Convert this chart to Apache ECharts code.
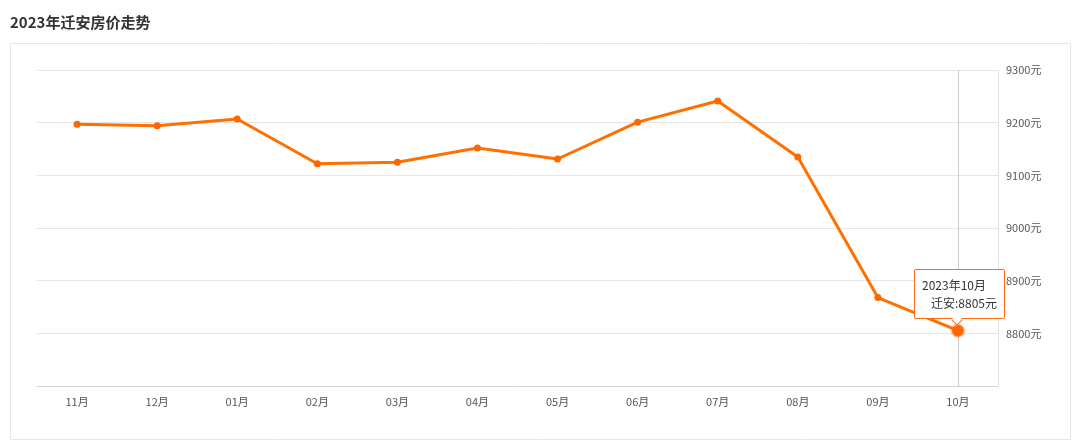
<!DOCTYPE html>
<html>
<head>
<meta charset="utf-8">
<script src="https://cdn.jsdelivr.net/npm/echarts@6/dist/echarts.min.js"></script>
<style>
html,body{margin:0;padding:0;background:#fff;}
#chart{width:1080px;height:448px;}
</style>
</head>
<body>
<div id="chart"></div>
<script>
const titleText = '2023年迁安房价走势';
const seriesName = '迁安';
const periods = ['2022年11月','2022年12月','2023年01月','2023年02月','2023年03月','2023年04月','2023年05月','2023年06月','2023年07月','2023年08月','2023年09月','2023年10月'];
const monthLabels = ['11月','12月','01月','02月','03月','04月','05月','06月','07月','08月','09月','10月'];
const prices = [9197, 9194, 9207, 9122, 9125, 9152, 9131, 9201, 9241, 9135, 8868, 8805];
const yMin = 8700, yMax = 9300, yStep = 100;
const unit = '元';

const font = '"Microsoft YaHei","Noto Sans CJK SC",sans-serif';
const chart = echarts.init(document.getElementById('chart'));
chart.setOption({
  animation: false,
  textStyle: {fontFamily: font},
  title: {
    text: titleText, left: 5, top: 10,
    textStyle: {fontSize: 15, fontWeight: 'bold', color: '#333', fontFamily: font}
  },
  graphic: [{
    type: 'rect', shape: {x: 10.5, y: 43.5, width: 1060, height: 396},
    style: {fill: 'none', stroke: '#e6e6e6', lineWidth: 1}, silent: true, z: -1
  }],
  grid: {left: 37, right: 82, top: 70, bottom: 62},
  tooltip: {
    trigger: 'axis',
    alwaysShowContent: true,
    transitionDuration: 0,
    backgroundColor: '#fff',
    borderColor: '#ff6a13',
    borderWidth: 1,
    padding: [6, 7],
    extraCssText: 'box-shadow:none;border-radius:2px;overflow:visible;',
    textStyle: {color: '#333', fontSize: 12, fontFamily: font},
    axisPointer: {type: 'line', z: 0, lineStyle: {color: '#ccc', width: 1, type: 'solid'}},
    position: function (point, params, dom, rect, size) {
      const w = size.contentSize[0], h = size.contentSize[1];
      return [point[0] - w / 2 + 2, point[1] - h - 12];
    },
    formatter: function (ps) {
      const p = ps[0];
      return '<div style="line-height:18px;position:relative">' + periods[p.dataIndex] +
        '<br/><span style="padding-left:9px">' + p.seriesName + ':' + p.value + unit + '</span>' +
        '<div style="position:absolute;left:50%;bottom:-12px;width:7px;height:7px;margin-left:-6px;' +
        'background:#fff;border-right:1px solid #ff6a13;border-bottom:1px solid #ff6a13;transform:rotate(45deg);"></div></div>';
    }
  },
  xAxis: {
    type: 'category',
    data: monthLabels,
    boundaryGap: true,
    axisLine: {lineStyle: {color: '#d4d4d4'}},
    axisTick: {alignWithLabel: true, lineStyle: {color: '#d4d4d4'}},
    axisLabel: {color: '#555', fontSize: 11, margin: 10}
  },
  yAxis: {
    type: 'value',
    position: 'right',
    min: yMin, max: yMax, interval: yStep,
    axisLine: {show: true, lineStyle: {color: '#e0e0e0'}},
    axisTick: {show: false},
    splitLine: {lineStyle: {color: '#e6e6e6'}},
    axisLabel: {
      color: '#555', fontSize: 11, margin: 8,
      formatter: function (v) { return v === yMin ? '' : v + unit; }
    }
  },
  series: [{
    name: seriesName,
    type: 'line',
    data: prices,
    symbol: 'circle',
    symbolSize: 7,
    z: 5,
    stateAnimation: {duration: 0},
    lineStyle: {color: '#ff6600', width: 3},
    itemStyle: {color: '#ff6600'},
    emphasis: {
      scale: 1.7,
      itemStyle: {color: '#ff6600', borderColor: 'rgba(255,120,40,0.3)', borderWidth: 3}
    }
  }]
});
chart.dispatchAction({type: 'showTip', seriesIndex: 0, dataIndex: prices.length - 1});
</script>
</body>
</html>
